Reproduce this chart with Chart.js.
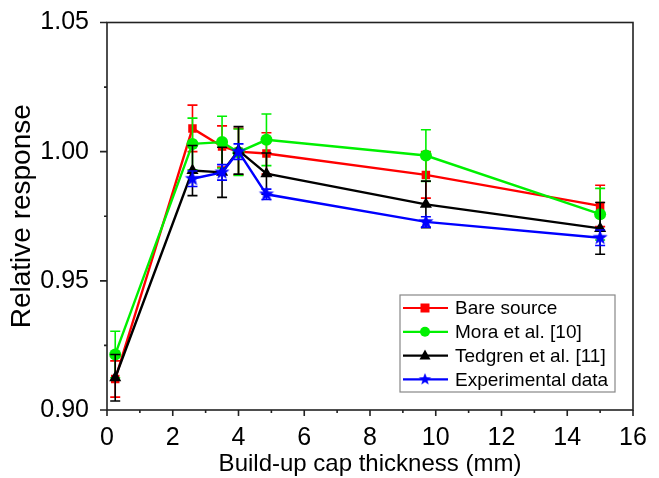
<!DOCTYPE html>
<html>
<head>
<meta charset="utf-8">
<script src="https://cdn.jsdelivr.net/npm/chart.js@4/dist/chart.umd.min.js"></script>
<style>
  html, body { margin: 0; padding: 0; background: #fff; }
  #wrap { width: 659px; height: 478px; position: relative; }
</style>
</head>
<body>
<div id="wrap"><canvas id="cap-chart"></canvas></div>
<script>
// Data

let thickness = [0.25, 2.6, 3.5, 4.0, 4.85, 9.7, 15.0];

let bareSource = [0.912, 1.009, 1.002, 1.000, 0.9993, 0.991, 0.979];
let bareErr    = [0.007, 0.009, 0.008, 0.009, 0.008, 0.009, 0.008];

let mora    = [0.9215, 1.003, 1.0037, 0.9998, 1.0046, 0.9985, 0.9758];
let moraErr = [0.009, 0.010, 0.010, 0.009, 0.010, 0.010, 0.010];

let tedgren    = [0.9125, 0.9927, 0.992, 1.0005, 0.9915, 0.9796, 0.9703];
let tedgrenErr = [0.009, 0.0097, 0.0097, 0.0092, 0.008, 0.009, 0.010];

let experimental = [null, 0.9895, 0.992, 1.000, 0.9835, 0.9728, 0.9667];
let expErr       = [0, 0.003, 0.003, 0.003, 0.002, 0.002, 0.003];

let seriesLabels = ['Bare source', 'Mora et al. [10]', 'Tedgren et al. [11]', 'Experimental data'];
let yTicks = [0.90, 0.95, 1.00, 1.05];

const FONT = '"Liberation Sans", Arial, sans-serif';

// filled five point star used as point style
function makeStar(color, r) {
    let c = document.createElement('canvas');
    c.width = c.height = r * 2 + 2;
    let g = c.getContext('2d');
    g.fillStyle = color;
    g.beginPath();
    for (let i = 0; i < 10; i++) {
        let rr = i % 2 ? r * 0.42 : r;
        let a = -Math.PI / 2 + i * Math.PI / 5;
        g.lineTo(r + 1 + rr * Math.cos(a), r + 1 + rr * Math.sin(a));
    }
    g.closePath();
    g.fill();
    return c;
}
let starImg = makeStar('#0000ff', 8);

function toPoints(ys) {
    return thickness.map((x, i) => ({ x: x, y: ys[i] }));
}

let errors = [bareErr, moraErr, tedgrenErr, expErr];

let datasets = [
    { label: seriesLabels[0], data: toPoints(bareSource), borderColor: '#ff0000', backgroundColor: '#ff0000',
      pointStyle: 'rect', pointRadius: 6, order: 3 },
    { label: seriesLabels[1], data: toPoints(mora), borderColor: '#00f000', backgroundColor: '#00f000',
      pointStyle: 'circle', pointRadius: 6, order: 2 },
    { label: seriesLabels[2], data: toPoints(tedgren), borderColor: '#000000', backgroundColor: '#000000',
      pointStyle: 'triangle', pointRadius: 7, order: 1 },
    { label: seriesLabels[3], data: toPoints(experimental), borderColor: '#0000ff', backgroundColor: '#0000ff',
      pointStyle: starImg, pointRadius: 7, order: 0 }
];
datasets.forEach(d => { d.borderWidth = 2.4; d.tension = 0; d.pointBorderWidth = 0; });

// Error bars, drawn just before each dataset so markers sit on top
let errorBars = {
    id: 'errorBars',
    beforeDatasetDraw(chart, args) {
        let i = args.index;
        let ds = chart.data.datasets[i];
        let err = errors[i];
        let xs = chart.scales.x, ys = chart.scales.y;
        let c = chart.ctx;
        c.save();
        c.strokeStyle = ds.borderColor;
        c.lineWidth = 1.6;
        ds.data.forEach((p, k) => {
            if (p.y == null || !err[k]) return;
            let px = xs.getPixelForValue(p.x);
            let top = ys.getPixelForValue(p.y + err[k]);
            let bot = ys.getPixelForValue(p.y - err[k]);
            c.beginPath();
            c.moveTo(px, top); c.lineTo(px, bot);
            c.moveTo(px - 5, top); c.lineTo(px + 5, top);
            c.moveTo(px - 5, bot); c.lineTo(px + 5, bot);
            c.stroke();
        });
        c.restore();
    }
};

function drawMarker(c, style, x, y, color) {
    c.fillStyle = color;
    if (style === 'rect') {
        c.fillRect(x - 4.5, y - 4.5, 9, 9);
    } else if (style === 'circle') {
        c.beginPath(); c.arc(x, y, 5, 0, Math.PI * 2); c.fill();
    } else if (style === 'triangle') {
        c.beginPath(); c.moveTo(x, y - 6); c.lineTo(x + 5.5, y + 4); c.lineTo(x - 5.5, y + 4); c.closePath(); c.fill();
    } else {
        let w = style.width * 0.8;
        c.drawImage(style, x - w / 2, y - w / 2, w, w);
    }
}

// Box frame, outward ticks and the inset legend
let frame = {
    id: 'frame',
    afterDatasetsDraw(chart) {
        let c = chart.ctx, a = chart.chartArea;
        let xs = chart.scales.x, ys = chart.scales.y;
        c.save();
        c.strokeStyle = '#222';
        c.lineWidth = 1.6;
        c.strokeRect(a.left, a.top, a.right - a.left, a.bottom - a.top);
        c.beginPath();
        for (let v = 0; v <= 16; v++) {
            let px = xs.getPixelForValue(v);
            c.moveTo(px, a.bottom); c.lineTo(px, a.bottom + (v % 2 ? 3 : 6));
        }
        for (let k = 0; k <= 6; k++) {
            let py = ys.getPixelForValue(0.90 + k * 0.025);
            c.moveTo(a.left, py); c.lineTo(a.left - (k % 2 ? 3 : 7), py);
        }
        c.stroke();

        // legend
        let bx = a.right - 233, by = a.bottom - 115, bw = 215, bh = 97;
        c.strokeStyle = '#888';
        c.lineWidth = 1.2;
        c.fillStyle = '#fff';
        c.fillRect(bx, by, bw, bh);
        c.strokeRect(bx, by, bw, bh);
        c.font = '19px ' + FONT;
        c.textBaseline = 'middle';
        chart.data.datasets.forEach((ds, i) => {
            let ry = by + 13 + i * 23.8;
            c.strokeStyle = ds.borderColor;
            c.lineWidth = 2.2;
            c.beginPath(); c.moveTo(bx + 3, ry); c.lineTo(bx + 48, ry); c.stroke();
            drawMarker(c, ds.pointStyle, bx + 25, ry, ds.backgroundColor);
            c.fillStyle = '#000';
            c.fillText(ds.label, bx + 55, ry + 1);
        });
        c.restore();
    }
};

let chartOptions = {
    responsive: true,
    maintainAspectRatio: false,
    animation: false,
    layout: { padding: { top: 11, right: 26, left: 0, bottom: 0 } },
    scales: {
        x: {
            type: 'linear',
            min: 0,
            max: 16,
            grid: { display: false },
            border: { display: false },
            ticks: { stepSize: 2, padding: 5, color: '#000', font: { family: FONT, size: 25 } },
            title: { display: true, text: 'Build-up cap thickness (mm)', color: '#000',
                     font: { family: FONT, size: 24, lineHeight: 1.1 }, padding: { top: 0, bottom: 0 } },
            afterFit(s) { s.height = 68; }
        },
        y: {
            min: 0.90,
            max: 1.05,
            grid: { display: false },
            border: { display: false },
            afterBuildTicks(s) { s.ticks = yTicks.map(v => ({ value: v })); },
            ticks: { padding: 10, color: '#000', font: { family: FONT, size: 25, lineHeight: 1.0 },
                     callback: v => v.toFixed(2) },
            title: { display: true, text: 'Relative response', color: '#000',
                     font: { family: FONT, size: 28 }, padding: { top: 5, bottom: 0 } },
            afterFit(s) { s.width = 107; }
        }
    },
    plugins: {
        legend: { display: false },
        tooltip: { enabled: false }
    }
};

let ctx = document.getElementById('cap-chart').getContext('2d');
let capChart = new Chart(ctx, {
    type: 'line',
    data: { datasets: datasets },
    options: chartOptions,
    plugins: [errorBars, frame]
});
</script>
</body>
</html>
